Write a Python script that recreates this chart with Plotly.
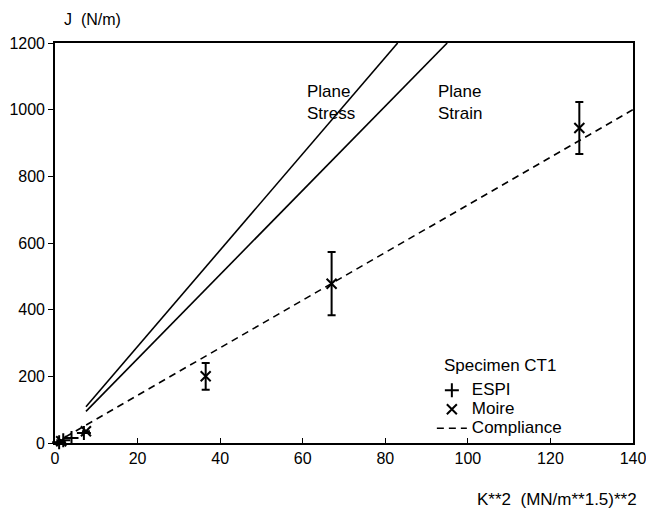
import plotly.graph_objects as go

# ---- data ----
espi_k = [1.0, 2.0, 4.0, 7.0]
espi_j = [2, 8, 15, 30]

moire_k = [1.5, 7.5, 36.5, 67.0, 127.0]
moire_j = [5, 35, 200, 478, 945]
moire_err = [0, 0, 40, 95, 78]

compliance_k = [0, 140]
compliance_j = [0, 1000]

stress_k = [7.5, 83.0]
stress_j = [109, 1200]
strain_k = [7.5, 95.0]
strain_j = [95, 1200]

x_ticks = [0, 20, 40, 60, 80, 100, 120, 140]
y_ticks = [0, 200, 400, 600, 800, 1000, 1200]

FONT = "Liberation Sans, Arial, sans-serif"


def big(s):
    return '<span style="font-size:17px">' + s + '</span>'


fig = go.Figure()

fig.add_trace(go.Scatter(x=stress_k, y=stress_j, mode="lines",
                         line=dict(color="black", width=1.6), showlegend=False))
fig.add_trace(go.Scatter(x=strain_k, y=strain_j, mode="lines",
                         line=dict(color="black", width=1.6), showlegend=False))

fig.add_trace(go.Scatter(x=espi_k, y=espi_j, mode="markers", name=big("ESPI"),
                         marker=dict(symbol="cross-thin", size=10, color="black",
                                     line=dict(color="black", width=2)),
                         cliponaxis=False))
fig.add_trace(go.Scatter(x=moire_k, y=moire_j, mode="markers", name=big("Moire"),
                         marker=dict(symbol="x-thin", size=10, color="black",
                                     line=dict(color="black", width=2)),
                         error_y=dict(type="data", array=moire_err, visible=True,
                                      color="black", thickness=2, width=4),
                         cliponaxis=False))
fig.add_trace(go.Scatter(x=compliance_k, y=compliance_j, mode="lines",
                         name=big("Compliance"),
                         line=dict(color="black", width=1.6, dash="7px,5px")))

fig.add_annotation(x=60.5, y=1090, xref="x", yref="y", text="Plane<br>Stress",
                   showarrow=False, xanchor="left", yanchor="top", align="left",
                   font=dict(family=FONT, size=17, color="black"))
fig.add_annotation(x=92.3, y=1090, xref="x", yref="y", text="Plane<br>Strain",
                   showarrow=False, xanchor="left", yanchor="top", align="left",
                   font=dict(family=FONT, size=17, color="black"))

fig.add_annotation(x=0.012, y=1.0575, xref="paper", yref="paper", text="J  (N/m)",
                   showarrow=False, xanchor="left", yanchor="middle",
                   font=dict(family=FONT, size=16, color="black"))
fig.add_annotation(x=1.01, y=-0.142, xref="paper", yref="paper",
                   text="K**2  (MN/m**1.5)**2",
                   showarrow=False, xanchor="right", yanchor="middle",
                   font=dict(family=FONT, size=17, color="black"))
fig.add_annotation(x=0.6696, y=0.195, xref="paper", yref="paper",
                   text="Specimen CT1",
                   showarrow=False, xanchor="left", yanchor="middle",
                   font=dict(family=FONT, size=17, color="black"))

fig.update_layout(
    width=646, height=526,
    margin=dict(l=55, r=13, t=43, b=83, autoexpand=False),
    paper_bgcolor="white", plot_bgcolor="white",
    font=dict(family=FONT, size=15, color="black"),
    showlegend=True,
    legend=dict(x=0.652, y=0.168, xanchor="left", yanchor="top",
                bgcolor="rgba(0,0,0,0)",
                font=dict(family=FONT, size=12), tracegroupgap=0,
                itemwidth=30),
    xaxis=dict(range=[0, 140], tickvals=x_ticks, showgrid=False, zeroline=False,
               showline=True, linecolor="black", linewidth=1.6, mirror=True,
               ticks="inside", ticklen=5, tickcolor="black",
               ticklabeloverflow="allow", automargin=False,
               tickfont=dict(family=FONT, size=16)),
    yaxis=dict(range=[0, 1200], tickvals=y_ticks, showgrid=False, zeroline=False,
               showline=True, linecolor="black", linewidth=1.6, mirror=True,
               ticks="outside", ticklen=5, tickcolor="black", automargin=False,
               tickfont=dict(family=FONT, size=16)),
)

fig.write_html("out.html")
